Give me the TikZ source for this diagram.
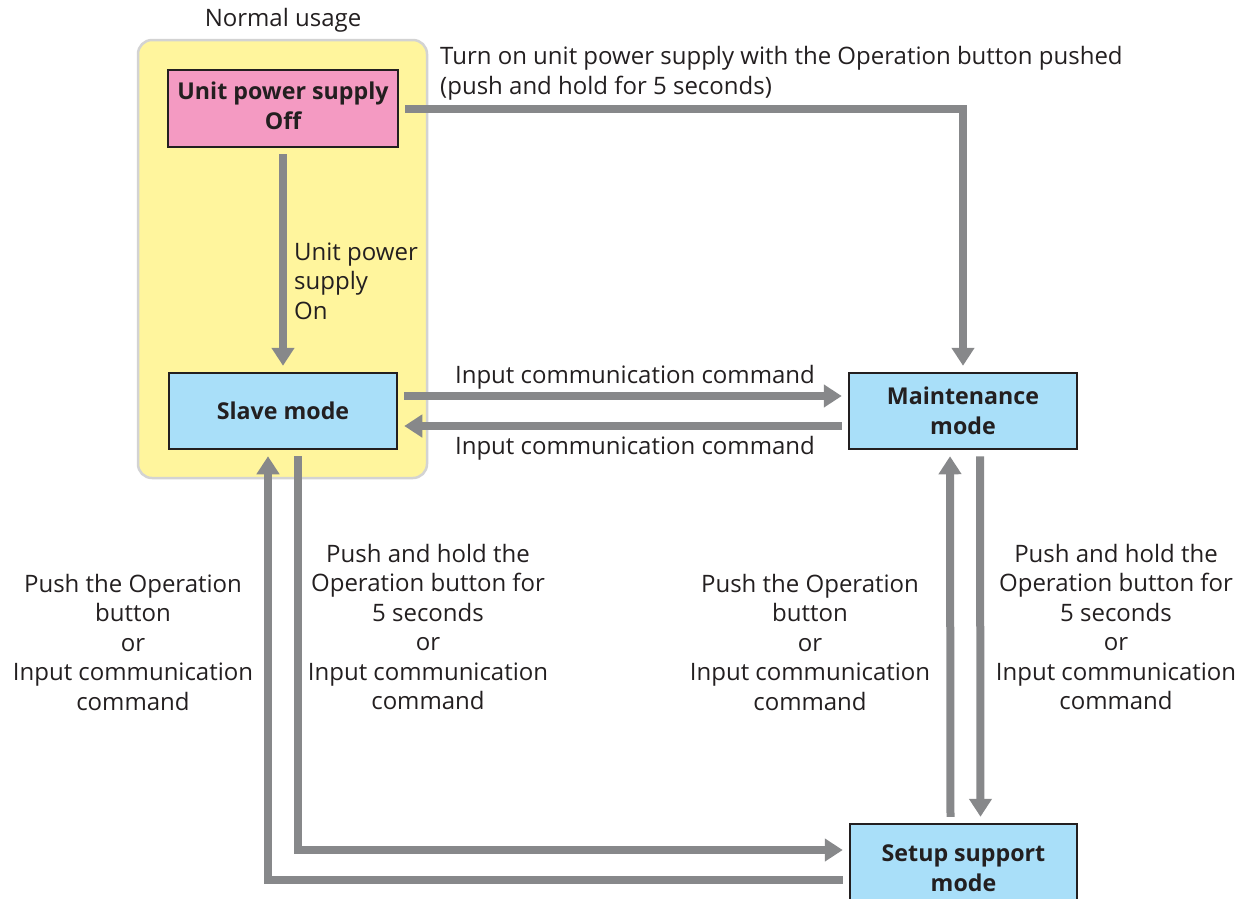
\documentclass[tikz,border=0pt]{standalone}
\usepackage{fontspec}
\setmainfont{Open Sans}
\usetikzlibrary{arrows.meta}
\definecolor{arrgray}{HTML}{87888A}
\definecolor{ylw}{HTML}{FFF59D}
\definecolor{ylwline}{HTML}{D3D3D3}
\definecolor{pinkbox}{HTML}{F49AC2}
\definecolor{bluebox}{HTML}{A9DFF9}
\definecolor{boxline}{HTML}{231F20}
\definecolor{txt}{HTML}{231F20}
\tikzset{
  lbl/.style={font=\fontsize{24}{29.5}\selectfont, text=txt, align=center, inner sep=0pt},
  lblleft/.style={lbl, align=left, anchor=west},
  statebox/.style={draw=boxline, line width=2.5pt, font=\bfseries\fontsize{23.2}{29.5}\selectfont, text=txt, align=center, inner sep=0pt},
  arr/.style={draw=arrgray, line width=8pt, line join=miter, -{Triangle[width=22pt,length=18pt]}, shorten <=6pt, shorten >=6pt},
  container/.style={fill=ylw, draw=ylwline, line width=2.5pt, rounded corners=14pt, inner sep=0pt}
}
\begin{document}
\begin{tikzpicture}[x=1pt,y=-1pt]
\useasboundingbox (0,0) rectangle (1247,898);
\clip (0,0) rectangle (1247,898);
\node[container, minimum width=289pt, minimum height=438pt] (normal) at (282.5,259) {};
\node[lbl] (normaltitle) at (283,20) {Normal usage};
\node[statebox, fill=pinkbox, minimum width=230pt, minimum height=77pt] (off) at (283,108.5) {\raisebox{5pt}{\begin{tabular}{@{}c@{}}Unit power supply\\Off\end{tabular}}};
\node[statebox, fill=bluebox, minimum width=228pt, minimum height=76pt] (slave) at (283,411) {Slave mode};
\node[statebox, fill=bluebox, minimum width=228pt, minimum height=76pt] (maint) at (963,411) {Maintenance\\mode};
\node[statebox, fill=bluebox, minimum width=227pt, minimum height=88pt] (setup) at (963.5,868) {Setup support\\mode};

\draw[arr] (off.south) -- (slave.north);
\draw[arr] (off.east) -| (maint.north);
\draw[arr] ([yshift=15pt]slave.east) -- ([yshift=15pt]maint.west);
\draw[arr] ([yshift=-15pt]maint.west) -- ([yshift=-15pt]slave.east);
\draw[arr] ([xshift=17pt]maint.south) -- ([xshift=17pt]setup.north);
\draw[arr] ([xshift=-13pt]setup.north) -- ([xshift=-13pt]maint.south);
\draw[arr] ([xshift=15pt]slave.south) |- ([yshift=18pt]setup.west);
\draw[arr] ([yshift=-12pt]setup.west) -| ([xshift=-15pt]slave.south);

\node[lblleft] (ltop) at (440,73.5) {Turn on unit power supply with the Operation button pushed\\(push and hold for 5 seconds)};
\node[lblleft] (lon) at (294,281) {Unit power\\supply\\On};
\node[lbl] (lin1) at (635,377) {Input communication command};
\node[lbl] (lin2) at (635,448) {Input communication command};
\node[lbl] (lpush1) at (133,642) {Push the Operation\\button\\or\\Input communication\\command};
\node[lbl] (lhold1) at (428,627) {Push and hold the\\Operation button for\\5 seconds\\or\\Input communication\\command};
\node[lbl] (lpush2) at (810,642) {Push the Operation\\button\\or\\Input communication\\command};
\node[lbl] (lhold2) at (1116,627) {Push and hold the\\Operation button for\\5 seconds\\or\\Input communication\\command};
\end{tikzpicture}
\end{document}
